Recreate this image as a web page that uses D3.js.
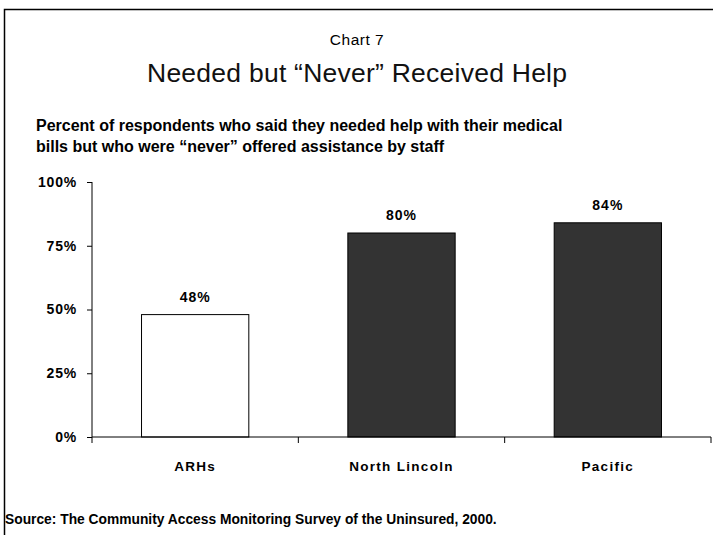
<!DOCTYPE html>
<html>
<head>
<meta charset="utf-8">
<script src="https://cdn.jsdelivr.net/npm/d3@7"></script>
<style>
  html, body { margin: 0; padding: 0; background: #fff; }
  svg { display: block; }
</style>
</head>
<body>
<svg id="chart" width="713" height="535"></svg>
<script>
// Chart data
const categories = ["ARHs", "North Lincoln", "Pacific"];
const values = [48, 80, 84];
const barFills = ["#ffffff", "#333333", "#333333"];
const yTicks = [0, 25, 50, 75, 100];
const yTickLabels = ["0%", "25%", "50%", "75%", "100%"];

const svg = d3.select("#chart");
const W = 713, H = 535;
const m = { left: 92, right: 2 };
const FONT = "'Liberation Sans', Arial, Helvetica, sans-serif";

// Outer frame
svg.append("rect")
  .attr("x", 4.5).attr("y", 9.5)
  .attr("width", W + 10).attr("height", H + 10)
  .attr("fill", "none").attr("stroke", "#000").attr("stroke-width", 1.5);

// Titles
svg.append("text")
  .attr("x", 357).attr("y", 45)
  .attr("text-anchor", "middle")
  .style("font-family", FONT)
  .style("font-size", "15.5px")
  .style("letter-spacing", "0.5px")
  .text("Chart 7");

svg.append("text")
  .attr("x", 357).attr("y", 82)
  .attr("text-anchor", "middle")
  .attr("textLength", 420)
  .attr("lengthAdjust", "spacing")
  .attr("fill", "#111")
  .style("font-family", FONT)
  .style("font-size", "26.5px")
  .text("Needed but \u201cNever\u201d Received Help");

const sub = svg.append("text")
  .style("font-family", FONT)
  .style("font-size", "16px")
  .style("font-weight", "bold");
sub.append("tspan").attr("x", 36).attr("y", 131)
  .text("Percent of respondents who said they needed help with their medical");
sub.append("tspan").attr("x", 36).attr("y", 152)
  .text("bills but who were \u201cnever\u201d offered assistance by staff");

// Scales
const x = d3.scaleBand()
  .domain(categories)
  .range([m.left, W - m.right])
  .paddingInner(0.48)
  .paddingOuter(0.24);

const y = d3.scaleLinear()
  .domain([0, 100])
  .range([437, 182]);

// Bars
svg.append("g").selectAll("rect")
  .data(categories)
  .join("rect")
  .attr("x", d => x(d))
  .attr("y", (d, i) => y(values[i]))
  .attr("width", x.bandwidth())
  .attr("height", (d, i) => y(0) - y(values[i]))
  .attr("fill", (d, i) => barFills[i])
  .attr("stroke", "#000")
  .attr("stroke-width", 1);

// Value labels
svg.append("g").selectAll("text")
  .data(categories)
  .join("text")
  .attr("x", d => x(d) + x.bandwidth() / 2)
  .attr("y", (d, i) => y(values[i]) - 13)
  .attr("text-anchor", "middle")
  .style("font-family", FONT)
  .style("font-size", "14px")
  .style("font-weight", "bold")
  .style("letter-spacing", "1px")
  .text((d, i) => values[i] + "%");

// Y axis
const yAxis = d3.axisLeft(y)
  .tickValues(yTicks)
  .tickFormat((d, i) => yTickLabels[i])
  .tickSize(5)
  .tickPadding(10);
const gy = svg.append("g").attr("transform", `translate(${m.left},0)`).call(yAxis);
gy.select(".domain").attr("d", `M0,${y(100)}V${y(0)}`);
gy.selectAll("text")
  .style("font-family", FONT)
  .style("font-size", "14px")
  .style("font-weight", "bold")
  .style("letter-spacing", "0.8px")
  .attr("fill", "#000");

// X axis: ticks on band boundaries
const xEdges = categories.map(d => x(d) - x.step() * x.paddingInner() / 2);
xEdges.push(W - m.right);
const gx = svg.append("g").attr("transform", `translate(0,${y(0)})`);
gx.append("line")
  .attr("x1", m.left).attr("x2", W - m.right)
  .attr("stroke", "#000");
gx.selectAll("line.tick")
  .data(xEdges)
  .join("line")
  .attr("class", "tick")
  .attr("x1", d => d).attr("x2", d => d)
  .attr("y1", 0).attr("y2", 6)
  .attr("stroke", "#000");
gx.selectAll("text")
  .data(categories)
  .join("text")
  .attr("x", d => x(d) + x.bandwidth() / 2)
  .attr("y", 34)
  .attr("text-anchor", "middle")
  .style("font-family", FONT)
  .style("font-size", "13.5px")
  .style("font-weight", "bold")
  .style("letter-spacing", "1.3px")
  .text(d => d);

// Source note
svg.append("text")
  .attr("x", 5).attr("y", 524)
  .style("font-family", FONT)
  .style("font-size", "13.8px")
  .style("font-weight", "bold")
  .text("Source: The Community Access Monitoring Survey of the Uninsured, 2000.");
</script>
</body>
</html>
